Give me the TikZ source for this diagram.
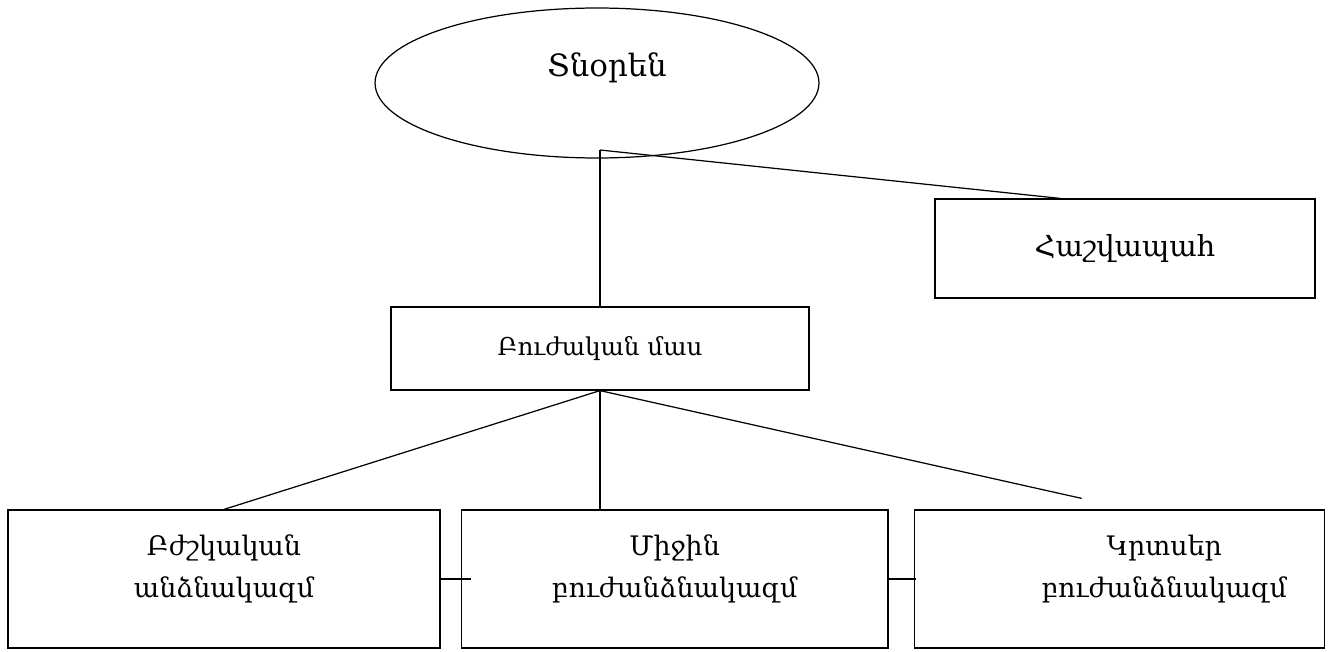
\documentclass[tikz,border=0pt]{standalone}
\usepackage{fontspec}
\setmainfont{DejaVu Serif}
\usetikzlibrary{positioning, shapes.geometric, calc}

\begin{document}
\begin{tikzpicture}[
    x=0.02cm, y=-0.02cm,
    every node/.style={inner sep=0pt},
    box/.style={draw, rectangle, align=center, line width=0.7pt,
                font=\fontsize{14}{24}\selectfont},
    unit/.style={box, minimum height=2.76cm, text depth=15pt,
                 font=\fontsize{15.3}{24}\selectfont},
    line/.style={line width=0.7pt}
]
\useasboundingbox (0,0) rectangle (1340,652);
% Top — director and accountant
\node[draw, ellipse, line width=0.7pt, minimum width=8.88cm, minimum height=3cm,
      label={[font=\fontsize{17.5}{22}\selectfont, xshift=0.2cm, yshift=0.3cm]center:Տնօրեն}]
      (dir) at (597,83) {};
\node[box, minimum width=7.6cm, minimum height=1.98cm, font=\fontsize{16.5}{22}\selectfont]
      (acc) at (1125,248.5) {Հաշվապահ};
\node[box, minimum width=8.36cm, minimum height=1.66cm] (buj) at (600,348.5) {Բուժական մաս};
% Bottom — staff
\node[unit, minimum width=8.64cm] (bzh) at (224,579) {Բժշկական\\անձնակազմ};
\node[unit, minimum width=8.54cm, right=0.4cm of bzh] (mij) {Միջին\\բուժանձնակազմ};
\node[unit, minimum width=8.2cm, right=0.5cm of mij,
      label={[align=center, font=\fontsize{15.3}{24}\selectfont, xshift=0.9cm, yshift=0.2cm]center:Կրտսեր\\բուժանձնակազմ}]
      (krt) {};
\coordinate (top) at (600,150);
\coordinate (krt_end) at ($(krt.north west)+(168,-11)$);
\draw[line] (top) -- (buj.north);
\draw[line] (top) -- ($(acc.north west)!0.33!(acc.north east)$);
\draw[line] (buj.south) -- (bzh.north);
\draw[line] (buj.south) -- (mij.north -| buj.south);
\draw[line] (buj.south) -- (krt_end);
\draw[line] (bzh.east) -- ($(mij.west)+(10,0)$);
\draw[line] (mij.east) -- ($(krt.west)+(2,0)$);
\end{tikzpicture}
\end{document}
